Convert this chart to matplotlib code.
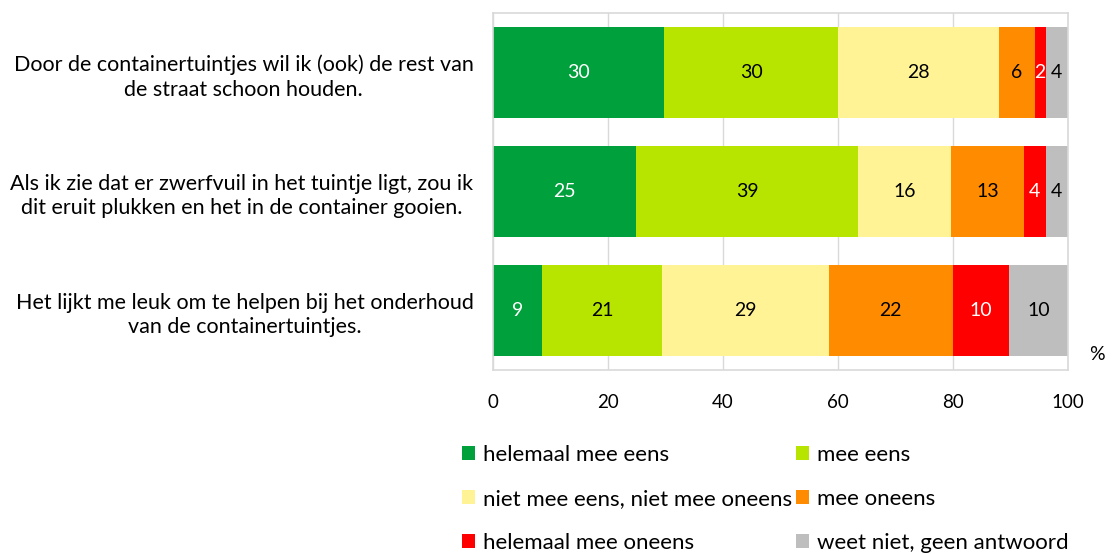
import matplotlib.pyplot as plt
from matplotlib.patches import Patch

plt.rcParams["font.family"] = ["Lato", "DejaVu Sans"]

statements = [
    "Door de containertuintjes wil ik (ook) de rest van\nde straat schoon houden.",
    "Als ik zie dat er zwerfvuil in het tuintje ligt, zou ik\ndit eruit plukken en het in de container gooien.",
    "Het lijkt me leuk om te helpen bij het onderhoud\nvan de containertuintjes.",
]
answers = [
    "helemaal mee eens",
    "mee eens",
    "niet mee eens, niet mee oneens",
    "mee oneens",
    "helemaal mee oneens",
    "weet niet, geen antwoord",
]
colors = ["#00A03C", "#B7E500", "#FFF396", "#FF8C00", "#FF0000", "#BEBEBE"]
label_colors = ["white", "black", "black", "black", "white", "black"]

# percentages per statement, in the order of the answers
row_door = [29.8, 30.2, 28.0, 6.2, 1.9, 3.9]
row_zwerfvuil = [24.9, 38.6, 16.2, 12.7, 3.7, 3.9]
row_leuk = [8.6, 20.8, 29.0, 21.6, 9.7, 10.3]
rows = [row_door, row_zwerfvuil, row_leuk]

# labels as printed in the bars
labels_door = [30, 30, 28, 6, 2, 4]
labels_zwerfvuil = [25, 39, 16, 13, 4, 4]
labels_leuk = [9, 21, 29, 22, 10, 10]
row_labels = [labels_door, labels_zwerfvuil, labels_leuk]

x_ticks = [0, 20, 40, 60, 80, 100]

fig = plt.figure(figsize=(11.12, 5.54), dpi=100)
ax = fig.add_axes([0.4433, 0.3321, 0.5171, 0.6444])

for i, (vals, labs) in enumerate(zip(rows, row_labels)):
    left = 0.0
    for j, (v, lab) in enumerate(zip(vals, labs)):
        ax.barh(i, v, left=left, height=0.77, color=colors[j], zorder=2)
        ax.text(left + v / 2, i, str(lab), ha="center", va="center",
                fontsize=14, color=label_colors[j], zorder=3)
        left += v

ax.set_xlim(0, 100)
ax.set_ylim(2.5, -0.5)
ax.set_xticks(x_ticks)
ax.set_xticklabels([str(t) for t in x_ticks], fontsize=13.5)
ax.set_yticks(range(len(statements)))
ax.set_yticklabels(statements, fontsize=15.5)
for t in ax.get_yticklabels():
    t.set_multialignment("center")
    t.set_linespacing(1.3)
ax.tick_params(axis="both", length=0)
ax.tick_params(axis="x", pad=17)
ax.tick_params(axis="y", pad=14)
ax.grid(axis="x", color="#D9D9D9", linewidth=1.0, zorder=0)
for s in ax.spines.values():
    s.set_color("#D9D9D9")
    s.set_linewidth(1.2)

fig.text(1097 / 1112, 1 - 355 / 554, "%", ha="center", va="center", fontsize=14)

handles = [Patch(facecolor=c, edgecolor="none") for c in colors]
order = [0, 2, 4, 1, 3, 5]
fig.legend([handles[k] for k in order], [answers[k] for k in order],
           ncol=2, loc="upper left", bbox_to_anchor=(462 / 1112, 1 - 445 / 554),
           frameon=False, fontsize=16, handlelength=0.6, handleheight=0.6,
           handletextpad=0.35, labelspacing=1.07, columnspacing=0.15,
           borderpad=0, borderaxespad=0)

fig.savefig("out.png", dpi=100)
